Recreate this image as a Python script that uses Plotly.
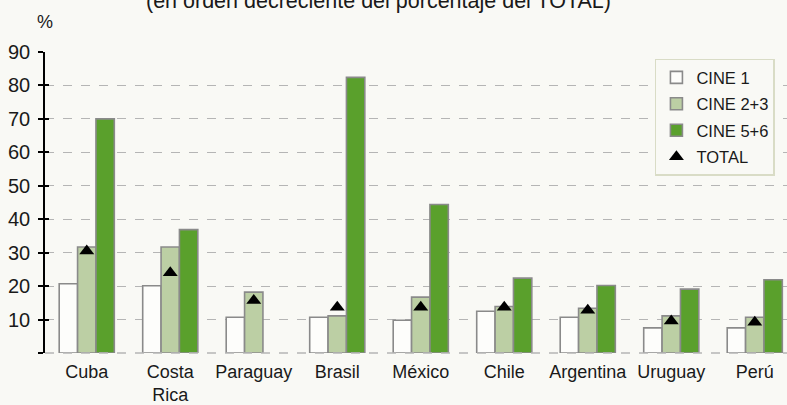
import plotly.graph_objects as go

# Countries in decreasing order of the TOTAL share
paises = ["Cuba", "Costa<br>Rica", "Paraguay", "Brasil", "México",
          "Chile", "Argentina", "Uruguay", "Perú"]

cine_1 = [20.7, 20.1, 10.7, 10.7, 9.8, 12.5, 10.7, 7.5, 7.5]
cine_23 = [31.7, 31.7, 18.2, 11.1, 16.7, 13.9, 13.4, 11.1, 10.7]
cine_56 = [70.0, 36.9, None, 82.4, 44.4, 22.4, 20.2, 19.1, 21.9]
total = [30.5, 24.0, 15.7, 13.7, 13.7, 13.7, 12.8, 9.6, 9.2]

y_ticks = [0, 10, 20, 30, 40, 50, 60, 70, 80, 90]
y_ticktext = ["", "10", "20", "30", "40", "50", "60", "70", "80", "90"]

BG = "#f9f9f5"
OUTLINE = "#8a8a8a"
GRID = "#b5b5b5"
FONT = "Liberation Sans, Arial, sans-serif"

fig = go.Figure()

fig.add_trace(go.Bar(
    x=paises, y=cine_1, name="CINE 1", legendgroup="a",
    marker=dict(color="#fdfdfb", line=dict(color=OUTLINE, width=1.6)),
))
fig.add_trace(go.Bar(
    x=paises, y=cine_23, name="CINE 2+3", legendgroup="b",
    marker=dict(color="#bccfa4", line=dict(color=OUTLINE, width=1.6)),
))
fig.add_trace(go.Bar(
    x=paises, y=cine_56, name="CINE 5+6", legendgroup="c",
    marker=dict(color="#5aa02c", line=dict(color=OUTLINE, width=1.6)),
))
fig.add_trace(go.Scatter(
    x=paises, y=total, name="TOTAL", legendgroup="d", mode="markers",
    marker=dict(symbol="triangle-up", size=13, color="#000000"),
))

# invisible overlay axis that only adds inward tick marks
fig.add_trace(go.Scatter(x=[paises[0]], y=[0], yaxis="y2", mode="markers",
                         marker=dict(opacity=0), showlegend=False,
                         hoverinfo="skip"))

fig.update_layout(
    width=787, height=405,
    margin=dict(l=45, r=0, t=52, b=52),
    paper_bgcolor=BG, plot_bgcolor=BG,
    font=dict(family=FONT, size=18, color="#1a1a1a"),
    barmode="group", bargap=0.34, bargroupgap=0,
    showlegend=True,
    legend=dict(
        x=0.822, y=0.978, xanchor="left", yanchor="top",
        bgcolor=BG, bordercolor="#d9dcc6", borderwidth=1.5,
        font=dict(size=16.5, family=FONT, color="#1a1a1a"),
        traceorder="grouped", tracegroupgap=2,
        itemwidth=30,
    ),
    xaxis=dict(
        range=[-0.5, 8.386], showgrid=False, showline=False, zeroline=False,
        ticks="", tickfont=dict(size=18), ticklabelstandoff=6,
    ),
    yaxis=dict(
        range=[0, 90], tickvals=y_ticks, ticktext=y_ticktext,
        showgrid=True, gridcolor=GRID, griddash="dash", gridwidth=1.3,
        zeroline=False, showline=True, linecolor="#000000", linewidth=1.5,
        ticks="outside", ticklen=5, tickwidth=1.5, tickcolor="#000000",
        tickfont=dict(size=20), ticklabelstandoff=4,
    ),
    yaxis2=dict(
        range=[0, 90], tickvals=y_ticks, showticklabels=False,
        overlaying="y", side="left", showgrid=False, zeroline=False,
        ticks="inside", ticklen=4, tickwidth=1.5, tickcolor="#000000",
    ),
    # dashed baseline along the bottom edge of the plot area
    shapes=[dict(type="line", xref="paper", yref="paper", x0=0, x1=1,
                 y0=0, y1=0, layer="above",
                 line=dict(color=GRID, width=1.5, dash="dash"))],
    annotations=[
        dict(text="(en orden decreciente del porcentaje del TOTAL)",
             xref="paper", yref="paper", x=0.449, y=1.168,
             xanchor="center", yanchor="middle", showarrow=False,
             font=dict(size=21.5, family=FONT, color="#1a1a1a")),
        dict(text="%", xref="paper", yref="paper", x=0.0, y=1.1,
             xanchor="center", yanchor="middle", showarrow=False,
             font=dict(size=18, family=FONT, color="#1a1a1a")),
    ],
)

fig.write_html("out.html")
